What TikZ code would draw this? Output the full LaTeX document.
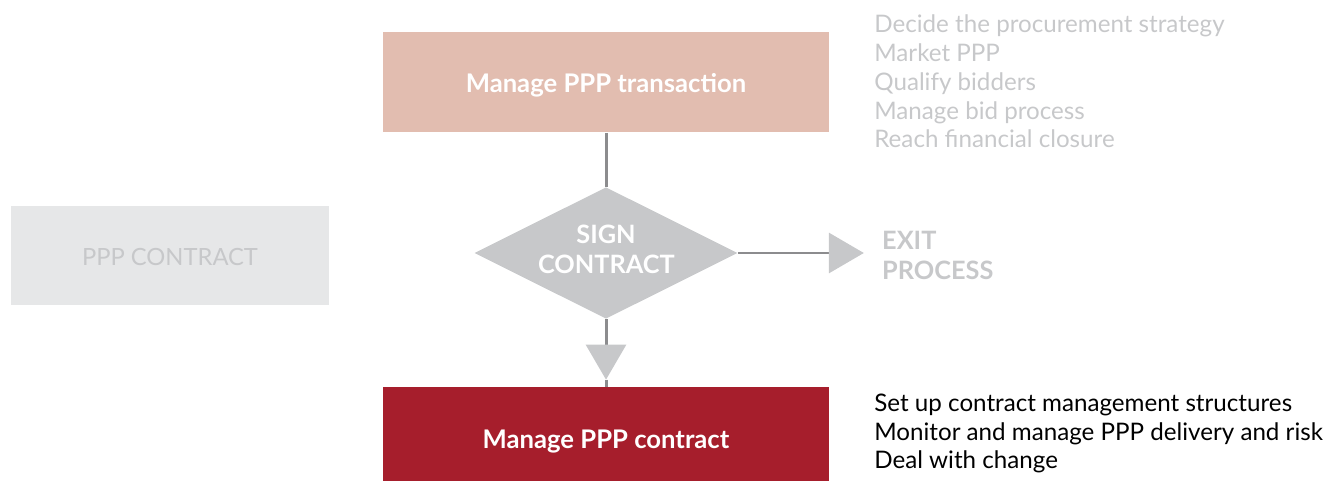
\documentclass[tikz,border=0pt]{standalone}
\usepackage{fontspec}
\setmainfont{Lato}
\usetikzlibrary{arrows.meta,positioning,shapes.geometric}
\definecolor{salmon}{HTML}{E2BDB0}
\definecolor{wine}{HTML}{A61E2C}
\definecolor{pale}{HTML}{E6E7E8}
\definecolor{mist}{HTML}{C7C8CA}
\definecolor{wire}{HTML}{8C8C8E}
\tikzset{
    box/.style =    {rectangle,
                    draw=none,
                    text=white,
                    font=\fontsize{14.6}{17}\selectfont\bfseries,
                    text depth=0pt,
                    minimum width=8.92cm,
                    minimum height=2cm},
    decision/.style = {diamond,
                    aspect=2,
                    fill=mist,
                    text=white,
                    align=center,
                    inner sep=0pt,
                    text width=2.72cm,
                    text height=0.45cm,
                    text depth=0.82cm,
                    font=\fontsize{14.4}{17}\selectfont\bfseries,
                    minimum width=5.18cm,
                    minimum height=2.6cm},
    note/.style =   {anchor=west,
                    align=left,
                    inner sep=0pt,
                    font=\fontsize{13.75}{16.4}\selectfont},
    -,
    link/.style =   {draw=wire,
                    line width=1.7pt},
    >={Triangle[length=0.7cm,width=0.8cm,color=mist]}}

\begin{document}
\begin{tikzpicture}
                \useasboundingbox (0,0) rectangle (26.88,9.64);
                \node[box,fill=salmon,text height=0.40cm] (trans) at (12.12,7.99) {Manage PPP transaction};
                \node[decision]            (sign)  at (12.12,4.58) {SIGN\\CONTRACT};
                \node[box,fill=wine,text height=0.58cm,minimum height=1.88cm] (manage) at (12.12,0.96) {Manage PPP contract};
                \node[box,fill=pale,text=mist,font=\fontsize{13.5}{16}\selectfont,text height=0.40cm,
                      minimum width=6.36cm,minimum height=1.98cm] (ppp) at (3.40,4.53) {PPP CONTRACT};
                \coordinate (exittip) at ([xshift=2.52cm]sign.east);
                \coordinate (downtip) at ([yshift=0.14cm]manage.north);
                \node[note,text=mist,font=\fontsize{14.4}{16.6}\selectfont\bfseries]
                                           (exit)  [right=0.36cm of exittip,yshift=-0.05cm] {EXIT\\PROCESS};
                \node[note,text=mist]      (steps) at (17.48,8.01) {Decide the procurement strategy\\
                                                                    Market PPP\\
                                                                    Qualify bidders\\
                                                                    Manage bid process\\
                                                                    Reach financial closure};
                \node[note,text=black]     (tasks) at (17.48,0.97) {Set up contract management structures\\
                                                                    Monitor and manage PPP delivery and risk\\
                                                                    Deal with change};
                % connectors
                \draw[link]     (trans) -- (sign);
                \draw[link,->]  (sign.east) -- (exittip);
                \draw[link,->]  (sign) -- (downtip);
                \draw[link]     (downtip) -- (manage);
\end{tikzpicture}
\end{document}
